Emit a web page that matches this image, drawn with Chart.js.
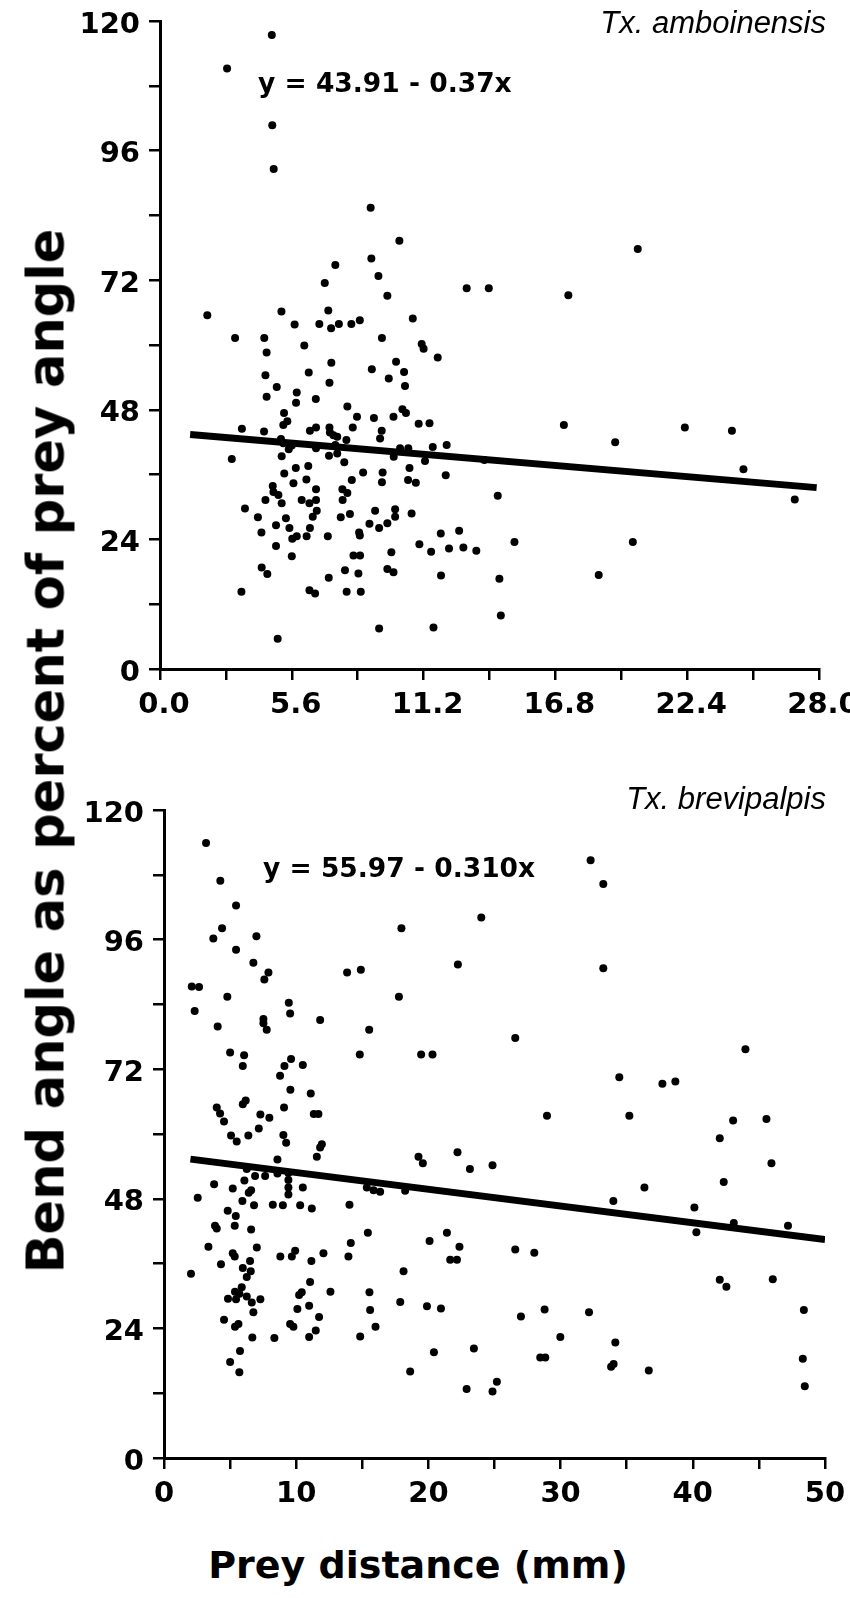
<!DOCTYPE html>
<html>
<head>
<meta charset="utf-8">
<script src="https://cdn.jsdelivr.net/npm/chart.js@4/dist/chart.umd.min.js"></script>
<style>
  html, body { margin: 0; padding: 0; background: #fff; }
  #page { position: relative; width: 850px; height: 1598px; overflow: hidden; background: #fff; }
  canvas { position: absolute; left: 0; }
  #top { top: 0; }
  #bottom { top: 760px; }
  .title { position: absolute; white-space: nowrap; color: #000; font-family: 'DejaVu Sans'; font-weight: bold; line-height: 1; }
  #ytitle { left: 46px; top: 751px; font-size: 51px; transform: translate(-50%, -50%) rotate(-90deg); }
  #xtitle { left: 418px; top: 1565px; font-size: 38px; transform: translate(-50%, -50%); }
</style>
</head>
<body>
<div id="page">
  <canvas id="top" width="850" height="740"></canvas>
  <canvas id="bottom" width="850" height="770"></canvas>
  <div class="title" id="ytitle">Bend angle as percent of prey angle</div>
  <div class="title" id="xtitle">Prey distance (mm)</div>
</div>
<script>
// Tx. amboinensis (top panel)
var amboX = [4.75, 2.85, 4.77, 4.83, 8.95, 10.17, 8.98, 7.45, 9.28, 7.0, 9.66, 2.01, 5.16, 7.15, 5.72, 6.77, 7.27, 7.6, 8.13, 8.49,
  10.74, 3.19, 4.43, 9.43, 20.3, 13.03, 13.97, 17.35, 6.13, 4.53, 11.12, 11.2, 11.8, 7.28, 10.03, 6.32, 9.0, 10.37, 4.48, 9.72,
  7.2, 10.41, 4.96, 5.81, 4.53, 6.62, 5.78, 7.96, 10.3, 10.45, 5.27, 5.41, 5.24, 8.37, 9.09, 9.92, 10.99, 11.45, 8.19, 3.48,
  4.42, 6.37, 6.63, 7.2, 7.22, 7.37, 7.53, 9.42, 9.35, 5.14, 5.24, 5.6, 5.47, 7.92, 6.63, 7.45, 7.53, 7.18, 9.93, 10.2,
  10.55, 11.59, 11.26, 12.18, 3.05, 5.17, 7.83, 5.77, 6.3, 10.6, 5.28, 8.63, 9.46, 9.43, 12.14, 6.22, 8.15, 10.54, 10.87, 5.67,
  4.79, 4.82, 5.03, 5.17, 6.63, 7.75, 7.96, 7.76, 6.02, 6.35, 6.63, 4.48, 3.61, 6.66, 6.49, 9.14, 9.99, 9.99, 9.66, 10.69,
  8.07, 7.68, 4.16, 5.35, 8.9, 9.31, 4.93, 5.5, 5.62, 5.81, 6.37, 6.23, 4.31, 8.46, 8.49, 7.13, 11.93, 12.71, 4.93, 11.02,
  11.52, 12.28, 9.83, 5.6, 8.22, 8.5, 4.32, 4.56, 7.86, 8.43, 9.66, 9.92, 7.17, 11.94, 3.46, 6.35, 6.59, 7.93, 8.53, 9.31,
  11.62, 5.0, 17.16, 22.3, 24.3, 19.34, 13.78, 24.79, 14.35, 26.97, 12.89, 13.44, 15.06, 20.09, 14.42, 18.64, 14.48];
var amboY = [117.4, 111.2, 100.7, 92.6, 85.4, 79.3, 76.0, 74.8, 72.8, 71.5, 69.1, 65.5, 66.2, 66.4, 63.8, 63.9, 63.1, 63.9, 63.9, 64.6,
  64.9, 61.3, 61.3, 61.3, 77.8, 70.5, 70.5, 69.2, 59.9, 58.6, 60.2, 59.3, 57.7, 56.7, 56.9, 54.9, 55.5, 55.0, 54.4, 53.8,
  53.0, 52.4, 52.2, 51.2, 50.4, 50.0, 49.3, 48.6, 48.1, 47.4, 47.4, 45.9, 45.2, 46.7, 46.5, 46.7, 45.4, 45.5, 44.7, 44.5,
  44.0, 44.1, 44.7, 44.7, 43.8, 43.3, 43.0, 44.1, 42.7, 42.6, 41.8, 41.4, 40.7, 42.4, 40.9, 41.5, 39.9, 39.5, 39.3, 40.9,
  40.9, 41.1, 38.5, 41.5, 38.9, 39.4, 38.3, 37.2, 37.6, 37.2, 36.2, 36.4, 36.4, 34.6, 35.9, 35.1, 35.0, 35.0, 34.5, 34.4,
  33.9, 32.8, 32.2, 30.7, 33.3, 33.3, 32.6, 31.3, 31.3, 30.7, 31.3, 31.3, 29.7, 29.3, 28.2, 29.3, 29.6, 28.2, 27.0, 28.8,
  28.7, 28.1, 28.1, 27.9, 26.9, 26.1, 26.6, 26.1, 24.1, 24.6, 26.1, 24.6, 25.3, 25.3, 24.7, 24.6, 25.1, 25.6, 22.8, 23.1,
  21.7, 22.3, 21.6, 20.9, 21.0, 21.0, 18.8, 17.6, 18.3, 17.7, 18.5, 17.9, 16.9, 17.3, 14.3, 14.6, 14.0, 14.3, 14.3, 7.5,
  7.7, 5.6, 45.2, 44.7, 44.1, 42.0, 38.7, 37.0, 32.1, 31.4, 22.5, 21.9, 23.5, 23.5, 16.7, 17.4, 9.9];

// Tx. brevipalpis (bottom panel)
var brevX = [3.18, 4.26, 5.45, 4.39, 3.73, 6.99, 5.45, 17.96, 6.76, 13.85, 14.89, 22.23, 7.9, 7.59, 2.1, 2.65, 17.77, 4.79, 2.32, 9.44,
  9.54, 4.06, 7.52, 7.52, 7.77, 11.81, 15.52, 5.0, 6.06, 5.96, 14.81, 19.45, 20.31, 9.61, 9.11, 10.5, 8.78, 9.56, 11.1, 3.99,
  4.24, 4.54, 6.18, 5.96, 7.29, 7.97, 9.08, 11.33, 11.68, 7.17, 5.07, 6.38, 9.03, 5.5, 9.24, 11.94, 11.81, 11.56, 8.58, 19.25,
  19.58, 22.2, 6.26, 6.89, 7.65, 8.58, 9.41, 9.41, 9.41, 9.41, 3.79, 6.08, 5.2, 6.59, 6.41, 10.5, 15.34, 15.85, 16.35, 18.24,
  2.55, 5.93, 6.81, 8.23, 8.99, 10.3, 11.18, 14.03, 4.82, 5.43, 5.35, 3.86, 3.99, 6.59, 15.42, 20.09, 21.4, 3.36, 7.02, 14.13,
  22.35, 5.2, 5.35, 8.8, 9.92, 9.67, 12.06, 13.95, 21.65, 22.16, 6.51, 11.15, 4.31, 5.96, 6.56, 6.26, 2.04, 18.12, 11.05, 5.88,
  5.37, 5.7, 10.42, 10.22, 12.59, 15.54, 4.84, 5.45, 6.26, 6.64, 7.29, 17.87, 10.98, 19.89, 20.95, 10.09, 15.59, 6.76, 11.73, 4.54,
  5.37, 5.63, 9.54, 9.79, 16.0, 11.48, 10.98, 6.68, 8.35, 14.84, 5.75, 20.42, 5.0, 5.7, 18.62, 32.27, 33.23, 24.0, 33.23, 26.57,
  43.98, 34.44, 37.7, 38.68, 28.97, 35.2, 43.05, 45.57, 42.04, 23.14, 24.85, 45.95, 42.34, 36.34, 33.99, 40.12, 43.1, 47.2, 40.27, 26.57,
  28.01, 42.04, 42.54, 46.05, 27.0, 28.79, 32.15, 48.4, 23.44, 29.98, 34.14, 28.46, 28.84, 33.82, 34.01, 36.67, 48.32, 22.89, 24.85, 25.18,
  48.47];
var brevY = [113.9, 106.9, 102.3, 98.1, 96.2, 96.6, 94.1, 98.1, 91.7, 89.9, 90.4, 91.4, 89.9, 88.6, 87.3, 87.2, 85.4, 85.4, 82.8, 84.3,
  82.3, 79.9, 81.3, 80.5, 79.3, 81.1, 79.3, 75.1, 74.6, 72.6, 74.7, 74.7, 74.7, 73.9, 72.6, 72.8, 70.8, 68.2, 67.5, 64.9,
  63.8, 62.3, 66.2, 65.5, 63.6, 63.0, 64.9, 63.7, 63.7, 61.0, 59.7, 59.7, 59.8, 58.6, 58.4, 58.1, 57.5, 55.8, 55.3, 55.8,
  54.6, 56.6, 53.5, 52.2, 52.2, 52.7, 52.8, 51.5, 50.1, 48.8, 50.7, 51.4, 49.9, 49.6, 49.1, 50.1, 50.1, 49.6, 49.3, 49.5,
  48.2, 47.6, 46.8, 46.9, 46.8, 46.8, 46.2, 46.9, 45.8, 44.8, 43.0, 43.0, 42.5, 42.3, 41.7, 40.2, 41.7, 39.1, 39.0, 39.8,
  39.1, 37.9, 37.3, 37.3, 38.4, 37.3, 37.9, 37.3, 36.7, 36.7, 36.5, 36.5, 35.9, 35.2, 34.6, 33.5, 34.1, 34.6, 32.6, 31.6,
  30.8, 30.4, 30.7, 30.2, 30.8, 30.7, 29.5, 29.4, 29.9, 28.8, 29.4, 28.9, 28.2, 28.1, 27.7, 27.6, 27.4, 27.0, 26.1, 25.6,
  24.3, 24.8, 24.8, 24.3, 24.3, 23.6, 22.4, 22.3, 22.2, 22.5, 19.8, 19.6, 17.8, 15.9, 16.0, 110.7, 106.3, 100.1, 90.7, 77.8,
  75.7, 70.5, 69.3, 69.7, 63.4, 63.4, 62.5, 62.8, 59.2, 53.5, 54.2, 54.6, 51.1, 50.1, 47.6, 46.4, 43.5, 43.0, 41.8, 38.6,
  38.0, 33.0, 31.7, 33.1, 26.2, 27.5, 27.0, 27.4, 20.3, 22.4, 21.4, 18.6, 18.6, 16.9, 17.4, 16.2, 18.4, 12.8, 12.3, 14.1,
  13.3];

// tick labels
var yTickLabels = [0, 24, 48, 72, 96, 120];
var amboXTickLabels = [0, 5.6, 11.2, 16.8, 22.4, 28.0];
var brevXTickLabels = [0, 10, 20, 30, 40, 50];

// regression lines: y = a + b*x, drawn over the x range given
var amboFit = { a: 43.91, b: -0.37, from: 1.28, to: 27.9 };
var brevFit = { a: 55.97, b: -0.310, from: 2.0, to: 50.0 };

function withMinors(major) {
    var all = [];
    for (var i = 0; i < major.length; i++) {
        all.push(major[i]);
        if (i < major.length - 1) all.push((major[i] + major[i + 1]) / 2);
    }
    return all;
}

function toPoints(xs, ys) {
    var pts = [];
    for (var i = 0; i < xs.length; i++) pts.push({ x: xs[i], y: ys[i] });
    return pts;
}

function fitLine(fit) {
    return [
        { x: fit.from, y: fit.a + fit.b * fit.from },
        { x: fit.to, y: fit.a + fit.b * fit.to }
    ];
}

// plain text drawn on the canvas (equation, species name)
var notesPlugin = {
    id: 'notes',
    afterDraw: function (chart) {
        var notes = chart.options.plugins.notes.items || [];
        var ctx = chart.ctx;
        ctx.save();
        ctx.fillStyle = '#000';
        ctx.textBaseline = 'alphabetic';
        notes.forEach(function (n) {
            ctx.font = n.font;
            ctx.textAlign = n.align;
            ctx.fillText(n.text, n.x, n.y);
        });
        ctx.restore();
    }
};

var tickFont = { family: 'DejaVu Sans', weight: 'bold', size: 29 };

function axisGrid() {
    return { display: true, drawOnChartArea: false, drawTicks: true, tickLength: 11, color: '#000', lineWidth: 2.5 };
}

function makeChart(canvasId, opts) {
    var yTicks = withMinors(yTickLabels);
    var xTicks = withMinors(opts.xLabels);
    return new Chart(document.getElementById(canvasId).getContext('2d'), {
        type: 'scatter',
        data: {
            datasets: [
                {
                    label: 'points',
                    data: toPoints(opts.xs, opts.ys),
                    backgroundColor: '#000',
                    borderWidth: 0,
                    pointRadius: 4,
                    pointHoverRadius: 4
                },
                {
                    label: 'fit',
                    type: 'line',
                    data: fitLine(opts.fit),
                    borderColor: '#000',
                    borderWidth: 7,
                    pointRadius: 0,
                    fill: false
                }
            ]
        },
        options: {
            responsive: false,
            animation: false,
            devicePixelRatio: 1,
            events: [],
            layout: { padding: opts.padding },
            plugins: {
                legend: { display: false },
                tooltip: { enabled: false },
                notes: { items: opts.notes }
            },
            scales: {
                x: {
                    type: 'linear',
                    min: 0,
                    max: opts.xLabels[opts.xLabels.length - 1],
                    afterBuildTicks: function (scale) {
                        scale.ticks = xTicks.map(function (v) { return { value: v }; });
                    },
                    afterFit: function (scale) {
                        scale.height = opts.xHeight;
                        // let the end labels hang over the edge instead of shrinking the plot
                        scale.paddingLeft = 0;
                        scale.paddingRight = 0;
                    },
                    ticks: {
                        autoSkip: false,
                        maxRotation: 0,
                        padding: 8,
                        labelOffset: opts.xLabelOffset,
                        color: '#000',
                        font: tickFont,
                        callback: function (value) {
                            return opts.xLabels.indexOf(value) >= 0 ? opts.xFormat(value) : '';
                        }
                    },
                    grid: axisGrid(),
                    border: { display: true, color: '#000', width: 3 }
                },
                y: {
                    type: 'linear',
                    min: 0,
                    max: 120,
                    afterBuildTicks: function (scale) {
                        scale.ticks = yTicks.map(function (v) { return { value: v }; });
                    },
                    afterFit: function (scale) {
                        scale.width = opts.yWidth;
                        scale.paddingTop = 0;
                        scale.paddingBottom = 0;
                    },
                    ticks: {
                        autoSkip: false,
                        padding: 9,
                        labelOffset: 4,
                        color: '#000',
                        font: tickFont,
                        callback: function (value) {
                            return yTickLabels.indexOf(value) >= 0 ? String(value) : '';
                        }
                    },
                    grid: axisGrid(),
                    border: { display: true, color: '#000', width: 3 }
                }
            }
        },
        plugins: [notesPlugin]
    });
}

makeChart('top', {
    xs: amboX, ys: amboY, fit: amboFit,
    xLabels: amboXTickLabels,
    xFormat: function (v) { return v.toFixed(1); },
    xLabelOffset: 4,
    padding: { top: 21, right: 31, left: 0, bottom: 0 },
    yWidth: 160, xHeight: 71,
    notes: [
        { text: 'Tx. amboinensis', x: 826, y: 33, font: 'italic 31px "Liberation Sans"', align: 'right' },
        { text: 'y = 43.91 - 0.37x', x: 258, y: 92, font: 'bold 26.5px "DejaVu Sans"', align: 'left' }
    ]
});

makeChart('bottom', {
    xs: brevX, ys: brevY, fit: brevFit,
    xLabels: brevXTickLabels,
    xFormat: function (v) { return String(v); },
    xLabelOffset: 0,
    padding: { top: 50, right: 25, left: 0, bottom: 0 },
    yWidth: 164, xHeight: 72,
    notes: [
        { text: 'Tx. brevipalpis', x: 826, y: 49, font: 'italic 31px "Liberation Sans"', align: 'right' },
        { text: 'y = 55.97 - 0.310x', x: 263, y: 117, font: 'bold 26.5px "DejaVu Sans"', align: 'left' }
    ]
});
</script>
</body>
</html>
